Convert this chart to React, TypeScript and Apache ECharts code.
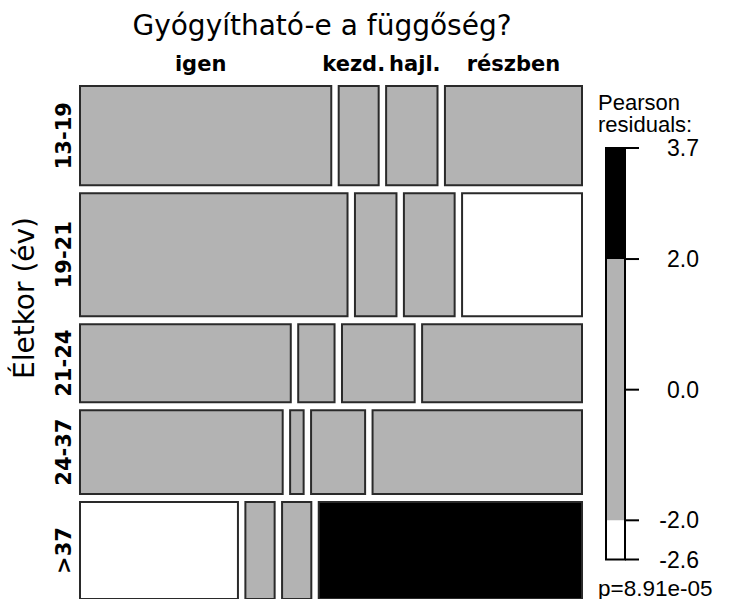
import React, { useEffect, useRef } from "react";
import * as echarts from "echarts";

// ---- Data ----
const title = "Gyógyítható-e a függőség?";
const rowVarName = "Életkor (év)";
const rowLabels = ["13-19", "19-21", "21-24", "24-37", ">37"];
const colLabels = ["igen", "kezd.", "hajl.", "részben"];
// observed counts (rows = age groups, cols = answers)
const counts = [
  [44, 7, 9, 24],
  [58, 9, 11, 26],
  [29, 5, 10, 22],
  [30, 2, 8, 31],
  [27, 5, 5, 45],
];
// Pearson residuals (read from shading)
const residuals = [
  [0.8, 0.5, 0.0, -1.2],
  [1.4, 0.7, 0.0, -2.2],
  [-0.3, 0.2, 1.1, -0.4],
  [-0.5, -1.3, 0.2, 1.0],
  [-2.6, -0.3, -1.2, 3.7],
];
const legendBreaks = [-2.6, -2.0, 2.0, 3.7];
const legendTicks = [-2.6, -2.0, 0.0, 2.0, 3.7];
const legendTitle = ["Pearson", "residuals:"];
const pValueText = "p=8.91e-05";

// ---- Layout constants ----
const GAP_X = 0.0155; // spacing between columns, in fraction units
const GAP_Y = 0.0165; // spacing between rows
const COL_LABEL_DX = [-5, -5, 3, 0]; // small label nudges (px)
const TICK_LEN = 14;

function shade(r: number) {
  if (r > 2) return "#000000";
  if (r < -2) return "#FFFFFF";
  return "#B3B3B3";
}

function buildCells() {
  const rowTotals = counts.map((r) => r.reduce((a, b) => a + b, 0));
  const grand = rowTotals.reduce((a, b) => a + b, 0);
  const cells: any[] = [];
  let yCursor = 0;
  counts.forEach((row, i) => {
    const h = rowTotals[i] / grand;
    let xCursor = 0;
    row.forEach((c, j) => {
      const w = c / rowTotals[i];
      cells.push([xCursor, xCursor + w, yCursor, yCursor + h, residuals[i][j], i, j]);
      xCursor += w + GAP_X;
    });
    yCursor += h + GAP_Y;
  });
  return cells;
}

export default function App() {
  const ref = useRef<HTMLDivElement>(null);
  useEffect(() => {
    if (!ref.current) return;
    const chart = echarts.init(ref.current, undefined, { renderer: "svg" });
    const cells = buildCells();
    const legendSegs = legendBreaks.slice(0, -1).map((lo, k) => [lo, legendBreaks[k + 1]]);

    const labelFont = "bold 21px 'DejaVu Sans'";
    const legendFont = "22px 'Liberation Sans', Arial, sans-serif";

    chart.setOption({
      animation: false,
      backgroundColor: "#ffffff",
      grid: [
        { left: 80, top: 86, width: 502, height: 521 },
        { left: 606, top: 148, width: 19, height: 411.5 },
      ],
      xAxis: [
        { gridIndex: 0, type: "value", min: 0, max: 1 + 3 * GAP_X, show: false },
        { gridIndex: 1, type: "value", min: 0, max: 1, show: false },
      ],
      yAxis: [
        { gridIndex: 0, type: "value", min: 0, max: 1 + 4 * GAP_Y, inverse: true, show: false },
        {
          gridIndex: 1,
          type: "value",
          min: legendBreaks[0],
          max: legendBreaks[legendBreaks.length - 1],
          position: "right",
          splitLine: { show: false },
          axisLine: { show: false },
          axisTick: { show: false },
          axisLabel: {
            customValues: legendTicks,
            formatter: (v: number) => v.toFixed(1),
            align: "right",
            margin: 74,
            fontSize: 23,
            fontFamily: "'Liberation Sans', Arial, sans-serif",
            color: "#000",
          },
        },
      ],
      series: [
        {
          type: "custom",
          xAxisIndex: 0,
          yAxisIndex: 0,
          data: cells,
          clip: false,
          renderItem: (params: any, api: any) => {
            const x0 = api.value(0), x1 = api.value(1), y0 = api.value(2), y1 = api.value(3);
            const r = api.value(4), i = api.value(5), j = api.value(6);
            const p0 = api.coord([x0, y0]);
            const p1 = api.coord([x1, y1]);
            const children: any[] = [
              {
                type: "rect",
                shape: { x: p0[0], y: p0[1], width: p1[0] - p0[0], height: p1[1] - p0[1] },
                style: { fill: shade(r), stroke: "#2a2a2a", lineWidth: 2 },
              },
            ];
            if (i === 0) {
              children.push({
                type: "text",
                x: (p0[0] + p1[0]) / 2 + COL_LABEL_DX[j],
                y: p0[1] - 22,
                style: {
                  text: colLabels[j],
                  font: labelFont,
                  fill: "#000",
                  align: "center",
                  verticalAlign: "middle",
                },
              });
            }
            if (j === 0) {
              children.push({
                type: "text",
                x: p0[0] - 16,
                y: (p0[1] + p1[1]) / 2,
                rotation: Math.PI / 2,
                style: {
                  text: rowLabels[i],
                  font: labelFont,
                  fill: "#000",
                  align: "center",
                  verticalAlign: "middle",
                },
              });
            }
            return { type: "group", children };
          },
        },
        {
          type: "custom",
          xAxisIndex: 1,
          yAxisIndex: 1,
          data: legendSegs,
          clip: false,
          z: 1,
          renderItem: (params: any, api: any) => {
            const lo = api.value(0), hi = api.value(1);
            const pTop = api.coord([0, hi]);
            const pBot = api.coord([1, lo]);
            return {
              type: "rect",
              shape: { x: pTop[0], y: pTop[1], width: pBot[0] - pTop[0], height: pBot[1] - pTop[1] },
              style: { fill: shade((lo + hi) / 2) },
            };
          },
        },
      ],
    });

    // Legend frame and ticks, placed through the legend axes' scale
    const finder = { xAxisIndex: 1, yAxisIndex: 1 };
    const topLeft = chart.convertToPixel(finder, [0, legendBreaks[legendBreaks.length - 1]]) as number[];
    const botRight = chart.convertToPixel(finder, [1, legendBreaks[0]]) as number[];
    const legendGraphics: any[] = [
      {
        type: "rect",
        z: 10,
        shape: {
          x: topLeft[0],
          y: topLeft[1],
          width: botRight[0] - topLeft[0],
          height: botRight[1] - topLeft[1],
        },
        style: { fill: "transparent", stroke: "#000", lineWidth: 2 },
      },
      ...legendTicks.map((t) => {
        const p = chart.convertToPixel(finder, [1, t]) as number[];
        return {
          type: "line",
          z: 10,
          shape: { x1: p[0], y1: p[1], x2: p[0] + TICK_LEN, y2: p[1] },
          style: { stroke: "#000", lineWidth: 2 },
        };
      }),
    ];

    chart.setOption({
      graphic: [
        {
          type: "text",
          x: 322,
          y: 25,
          style: {
            text: title,
            font: "28px 'DejaVu Sans'",
            fill: "#000",
            align: "center",
            verticalAlign: "middle",
          },
        },
        {
          type: "text",
          x: 24,
          y: 298,
          rotation: Math.PI / 2,
          style: {
            text: rowVarName,
            font: "28px 'DejaVu Sans'",
            fill: "#000",
            align: "center",
            verticalAlign: "middle",
          },
        },
        {
          type: "text",
          x: 598,
          y: 102,
          style: { text: legendTitle[0], font: legendFont, fill: "#000", align: "left", verticalAlign: "middle" },
        },
        {
          type: "text",
          x: 598,
          y: 124.5,
          style: { text: legendTitle[1], font: legendFont, fill: "#000", align: "left", verticalAlign: "middle" },
        },
        {
          type: "text",
          x: 598,
          y: 588,
          style: {
            text: pValueText,
            font: "22.5px 'Liberation Sans', Arial, sans-serif",
            fill: "#000",
            align: "left",
            verticalAlign: "middle",
          },
        },
        ...legendGraphics,
      ],
    });
    return () => chart.dispose();
  }, []);
  return (
    <div
      ref={ref}
      style={{ position: "fixed", left: 0, top: 0, width: 732, height: 599, background: "#fff" }}
    />
  );
}
